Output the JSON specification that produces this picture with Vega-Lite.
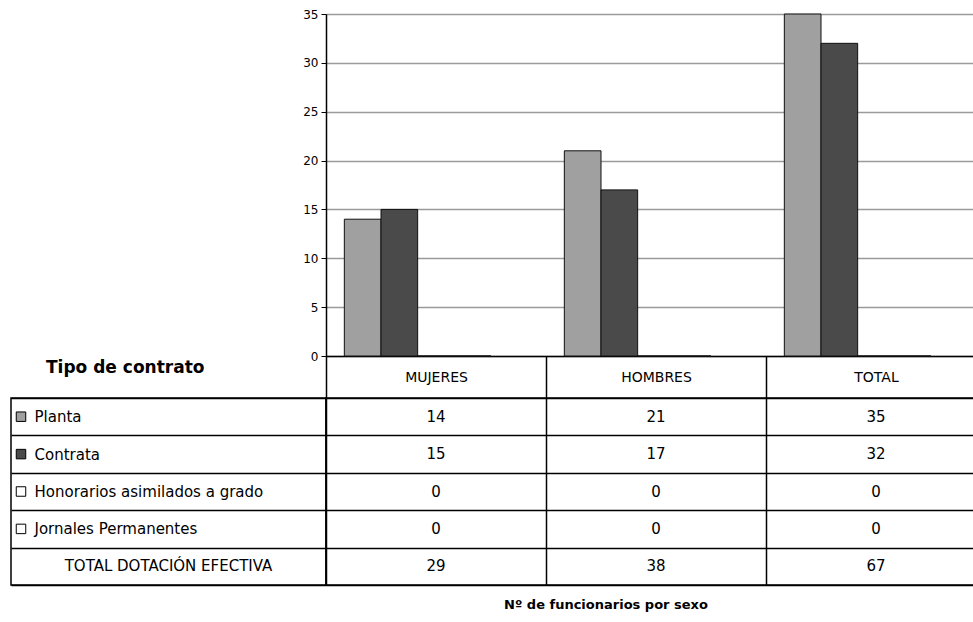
{
  "$schema": "https://vega.github.io/schema/vega-lite/v6.json",
  "autosize": {"type": "pad"},
  "padding": {"top": 8, "left": 10, "right": 0, "bottom": 0},
  "background": "white",
  "config": {
    "view": {"stroke": null},
    "font": "DejaVu Sans",
    "axis": {"labelFont": "DejaVu Sans", "labelColor": "black"},
    "title": {"font": "DejaVu Sans", "color": "black"}
  },
  "datasets": {
    "tabla": [
      {"tipo": "Planta", "sexo": "MUJERES", "valor": 14},
      {"tipo": "Planta", "sexo": "HOMBRES", "valor": 21},
      {"tipo": "Planta", "sexo": "TOTAL", "valor": 35},
      {"tipo": "Contrata", "sexo": "MUJERES", "valor": 15},
      {"tipo": "Contrata", "sexo": "HOMBRES", "valor": 17},
      {"tipo": "Contrata", "sexo": "TOTAL", "valor": 32},
      {"tipo": "Honorarios asimilados a grado", "sexo": "MUJERES", "valor": 0},
      {"tipo": "Honorarios asimilados a grado", "sexo": "HOMBRES", "valor": 0},
      {"tipo": "Honorarios asimilados a grado", "sexo": "TOTAL", "valor": 0},
      {"tipo": "Jornales Permanentes", "sexo": "MUJERES", "valor": 0},
      {"tipo": "Jornales Permanentes", "sexo": "HOMBRES", "valor": 0},
      {"tipo": "Jornales Permanentes", "sexo": "TOTAL", "valor": 0},
      {"tipo": "TOTAL DOTACIÓN EFECTIVA", "sexo": "MUJERES", "valor": 29},
      {"tipo": "TOTAL DOTACIÓN EFECTIVA", "sexo": "HOMBRES", "valor": 38},
      {"tipo": "TOTAL DOTACIÓN EFECTIVA", "sexo": "TOTAL", "valor": 67}
    ]
  },
  "columns": 2,
  "spacing": {"row": 42, "column": 0},
  "bounds": "flush",
  "align": "each",
  "concat": [
    {
      "width": 315,
      "height": 342,
      "data": {"values": [{}]},
      "mark": {"type": "text", "text": ""}
    },
    {
      "width": 660,
      "height": 342,
      "data": {"name": "tabla"},
      "transform": [{"filter": "datum.tipo != 'TOTAL DOTACIÓN EFECTIVA'"}],
      "mark": {"type": "bar", "stroke": "#111111", "strokeWidth": 1},
      "encoding": {
        "x": {
          "field": "sexo", "type": "nominal",
          "sort": ["MUJERES", "HOMBRES", "TOTAL"],
          "scale": {"paddingInner": 0, "paddingOuter": 0},
          "axis": {
            "title": null, "orient": "bottom", "tickBand": "extent",
            "ticks": true, "tickSize": 42, "tickColor": "black", "tickWidth": 1.5,
            "domainColor": "black", "domainWidth": 1.5,
            "labelAngle": 0, "labelPadding": -21, "labelBaseline": "middle",
            "labelFontSize": 14, "grid": false
          }
        },
        "xOffset": {
          "field": "tipo", "type": "nominal",
          "scale": {
            "domain": ["Planta", "Contrata", "Honorarios asimilados a grado", "Jornales Permanentes", "TOTAL DOTACIÓN EFECTIVA"],
            "paddingInner": 0, "paddingOuter": 0.5
          }
        },
        "y": {
          "field": "valor", "type": "quantitative",
          "scale": {"domain": [0, 35], "nice": false},
          "axis": {
            "title": null, "values": [0, 5, 10, 15, 20, 25, 30, 35],
            "grid": true, "gridColor": "#9a9a9a", "gridWidth": 1.5,
            "domainColor": "black", "domainWidth": 1.5,
            "tickColor": "black", "tickSize": 5, "tickWidth": 1,
            "labelFontSize": 12, "labelPadding": 3
          }
        },
        "color": {
          "field": "tipo", "type": "nominal",
          "scale": {
            "domain": ["Planta", "Contrata", "Honorarios asimilados a grado", "Jornales Permanentes", "TOTAL DOTACIÓN EFECTIVA"],
            "range": ["#a0a0a0", "#4a4a4a", "#ffffff", "#ffffff", "#ffffff"]
          },
          "legend": null
        }
      }
    },
    {
      "width": 315,
      "height": 187,
      "data": {"name": "tabla"},
      "transform": [{"filter": "datum.sexo == 'MUJERES'"}],
      "view": {"stroke": "black", "strokeWidth": 1.5},
      "title": {"text": "Tipo de contrato", "anchor": "start", "dx": 35, "offset": 14, "fontSize": 17, "fontWeight": "bold"},
      "encoding": {
        "y": {
          "field": "tipo", "type": "nominal",
          "sort": ["Planta", "Contrata", "Honorarios asimilados a grado", "Jornales Permanentes", "TOTAL DOTACIÓN EFECTIVA"],
          "scale": {"paddingInner": 0, "paddingOuter": 0},
          "axis": {
            "title": null, "grid": true, "tickBand": "extent",
            "gridColor": "black", "gridWidth": 1.5,
            "ticks": false, "tickSize": 0, "domain": false,
            "labelAlign": "left", "labelPadding": -23, "labelFontSize": 15, "labelLimit": 400,
            "labelExpr": "datum.value == 'TOTAL DOTACIÓN EFECTIVA' ? '' : datum.value"
          }
        }
      },
      "layer": [
        {
          "transform": [{"filter": "datum.tipo != 'TOTAL DOTACIÓN EFECTIVA'"}],
          "mark": {"type": "point", "shape": "square", "filled": true, "size": 90, "stroke": "black", "strokeWidth": 1, "opacity": 1},
          "encoding": {
            "x": {"value": 10},
            "fill": {
              "field": "tipo", "type": "nominal",
              "scale": {
                "domain": ["Planta", "Contrata", "Honorarios asimilados a grado", "Jornales Permanentes", "TOTAL DOTACIÓN EFECTIVA"],
                "range": ["#a0a0a0", "#4a4a4a", "#ffffff", "#ffffff", "#ffffff"]
              },
              "legend": null
            }
          }
        },
        {
          "transform": [{"filter": "datum.tipo == 'TOTAL DOTACIÓN EFECTIVA'"}],
          "mark": {"type": "text", "fontSize": 15, "color": "black"},
          "encoding": {"text": {"field": "tipo"}}
        }
      ]
    },
    {
      "width": 660,
      "height": 187,
      "data": {"name": "tabla"},
      "view": {"stroke": "black", "strokeWidth": 1.5},
      "title": {"text": "Nº de funcionarios por sexo", "orient": "bottom", "anchor": "middle", "dx": -50, "offset": 14, "fontSize": 13, "fontWeight": "bold"},
      "mark": {"type": "text", "fontSize": 15, "color": "black"},
      "encoding": {
        "x": {
          "field": "sexo", "type": "nominal",
          "sort": ["MUJERES", "HOMBRES", "TOTAL"],
          "scale": {"paddingInner": 0, "paddingOuter": 0},
          "axis": {
            "title": null, "grid": true, "tickBand": "extent",
            "gridColor": "black", "gridWidth": 1.5,
            "ticks": false, "labels": false, "domain": false
          }
        },
        "y": {
          "field": "tipo", "type": "nominal",
          "sort": ["Planta", "Contrata", "Honorarios asimilados a grado", "Jornales Permanentes", "TOTAL DOTACIÓN EFECTIVA"],
          "scale": {"paddingInner": 0, "paddingOuter": 0},
          "axis": {
            "title": null, "grid": true, "tickBand": "extent",
            "gridColor": "black", "gridWidth": 1.5,
            "ticks": false, "labels": false, "domain": false
          }
        },
        "text": {"field": "valor", "type": "quantitative"}
      }
    }
  ]
}
